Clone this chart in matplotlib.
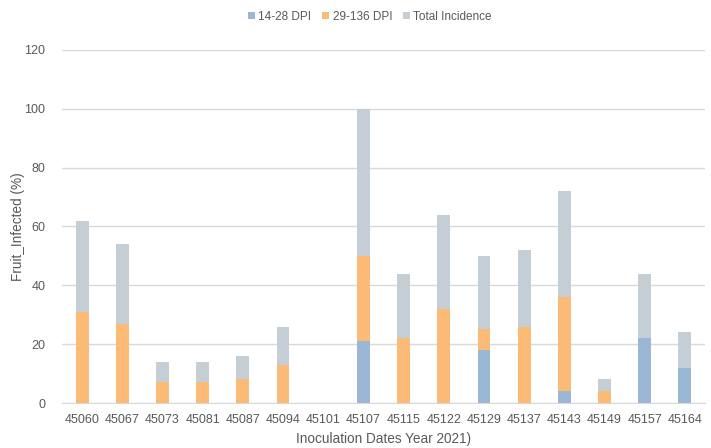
import numpy as np
import matplotlib.pyplot as plt

plt.rcParams['font.family'] = ['Liberation Sans', 'DejaVu Sans']

dates = ['45060', '45067', '45073', '45081', '45087', '45094', '45101', '45107',
         '45115', '45122', '45129', '45137', '45143', '45149', '45157', '45164']
dpi_14_28 = [0, 0, 0, 0, 0, 0, 0, 21, 0, 0, 18, 0, 4, 0, 22, 12]
dpi_29_136 = [31, 27, 7, 7, 8, 13, 0, 29, 22, 32, 7, 26, 32, 4, 0, 0]
total = [a + b for a, b in zip(dpi_14_28, dpi_29_136)]

c_blue = '#9BB7D6'
c_orange = '#FCBA77'
c_gray = '#C5CDD5'
txt = '#595959'

fig = plt.figure(figsize=(7.11, 4.48), dpi=100)
ax = fig.add_axes([62 / 711, 1 - 403 / 448, (705 - 62) / 711, (403 - 50) / 448])

x = np.arange(len(dates))
w = 0.32
b1 = np.array(dpi_14_28)
b2 = np.array(dpi_29_136)
ax.bar(x, b1, w, color=c_blue, label='14-28 DPI', zorder=3)
ax.bar(x, b2, w, bottom=b1, color=c_orange, label='29-136 DPI', zorder=3)
ax.bar(x, total, w, bottom=b1 + b2, color=c_gray, label='Total Incidence', zorder=3)

ax.set_xlim(-0.5, len(dates) - 0.5)
ax.set_ylim(0, 120)
ax.set_yticks(range(0, 121, 20))
ax.set_xticks(x)
ax.set_xticklabels(dates)
ax.grid(axis='y', color='#D9D9D9', linewidth=1, zorder=0)
for s in ['top', 'right', 'left']:
    ax.spines[s].set_visible(False)
ax.spines['bottom'].set_color('#D9D9D9')
ax.tick_params(axis='both', length=0, labelsize=9, colors=txt)
ax.tick_params(axis='y', pad=12)
ax.tick_params(axis='x', pad=8)

ax.set_xlabel('Inoculation Dates Year 2021)', fontsize=9.8, color=txt, labelpad=4)
ax.set_ylabel('Fruit_Infected (%)', fontsize=9.8, color=txt)
ax.yaxis.set_label_coords(-0.057, 0.5)

fig.legend(loc='upper center', bbox_to_anchor=(0.52, 1.0), ncol=3, frameon=False,
           fontsize=8.5, labelcolor=txt, handlelength=0.6, handleheight=0.6,
           handletextpad=0.3, columnspacing=0.9)

fig.savefig('out.png', dpi=100)
